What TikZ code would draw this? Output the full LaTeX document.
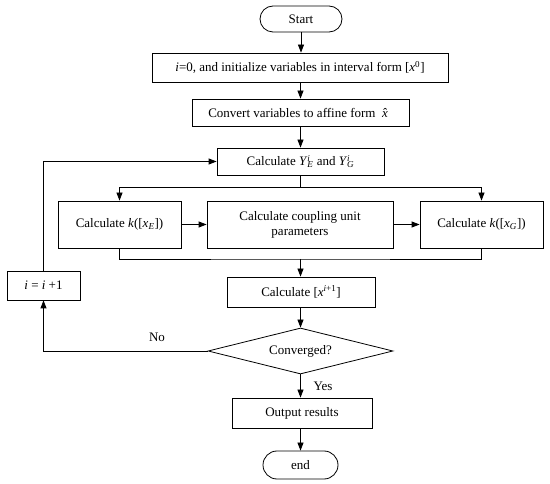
\documentclass[tikz,border=0pt]{standalone}
\usepackage{fontspec}
\setmainfont{Liberation Serif}
\usetikzlibrary{arrows.meta,shapes.geometric}
\newcommand{\vi}[1]{\textit{#1}}
\newcommand{\supsub}[2]{\rlap{\textsuperscript{\textit{#1}}}\textsubscript{\textit{#2}}}
\begin{document}
\begin{tikzpicture}[x=1pt,y=-1pt,
  every node/.style={font=\fontsize{13}{15}\selectfont},
  proc/.style={draw,line width=0.8pt,rectangle,inner sep=0pt,align=center},
  term/.style={draw,line width=0.8pt,rectangle,rounded corners=13pt,inner sep=0pt},
  dec/.style={draw,line width=0.8pt,diamond,aspect=4,inner sep=0pt},
  conn/.style={line width=0.8pt},
  arr/.style={line width=0.8pt,-{Triangle[length=8pt,width=6pt]}},
  lbl/.style={inner sep=0pt}]
\useasboundingbox (0,0) rectangle (550,484);
\node[term,minimum width=82pt,minimum height=26pt] (start) at (301,19) {Start};
\node[proc,minimum width=296pt,minimum height=29pt] (init) at (300,67.5) {\vi{i}=0, and initialize variables in interval form [\vi{x}\textsuperscript{0}]};
\node[proc,minimum width=217pt,minimum height=27pt] (conv) at (300.5,112.5) {Convert variables to affine form\ \ \vi{\^{x}}};
\node[proc,minimum width=167pt,minimum height=27pt] (calcY) at (300.5,161.5) {Calculate \vi{Y}\supsub{i}{E}\ and \vi{Y}\supsub{i}{G}};
\node[proc,minimum width=123pt,minimum height=47pt] (kE) at (119.5,224.5) {Calculate \vi{k}([\vi{x}\textsubscript{\vi{E}}])};
\node[proc,minimum width=186pt,minimum height=47pt] (coup) at (300,224.5) {Calculate coupling unit\\parameters};
\node[proc,minimum width=123pt,minimum height=47pt] (kG) at (481.5,224.5) {Calculate \vi{k}([\vi{x}\textsubscript{\vi{G}}])};
\node[proc,minimum width=148pt,minimum height=30pt] (calcX) at (301,292) {Calculate [\vi{x}\textsuperscript{\vi{i}+1}]};
\node[dec,minimum width=185pt,minimum height=46pt] (conv2) at (300.5,351) {Converged?};
\node[proc,minimum width=140pt,minimum height=30pt] (out) at (302,413) {Output results};
\node[term,minimum width=75pt,minimum height=28pt,rounded corners=14pt] (end) at (300.5,465) {end};
\node[proc,minimum width=73pt,minimum height=29pt] (inc) at (43.5,285.5) {\vi{i} = \vi{i} +1};
\coordinate (split) at (300.5,187);
\coordinate (merge) at (300.5,259);
\node[lbl] (no) at (157,337) {No};
\node[lbl] (yes) at (323,386) {Yes};
\draw[arr] (start) -- (start|-init.north);
\draw[arr] (init.south-|conv) -- (conv);
\draw[arr] (conv) -- (calcY);
\draw[conn] (calcY) -- (split);
\draw[arr] (split) -| (kE.north);
\draw[arr] (split) -| (kG.north);
\draw[arr] (kE) -- (coup);
\draw[arr] (coup) -- (kG);
\draw[conn] (kE.south) |- (merge) -| (kG.south);
\draw[arr] (merge) -- (merge|-calcX.north);
\draw[arr] (calcX.south-|conv2) -- (conv2);
\draw[arr] (conv2.south) -- (conv2.south|-out.north);
\draw[arr] (out.south-|end) -- (end);
\draw[arr] (conv2.west) -| (inc.south);
\draw[arr] (inc.north) |- (calcY.west);
\end{tikzpicture}
\end{document}
